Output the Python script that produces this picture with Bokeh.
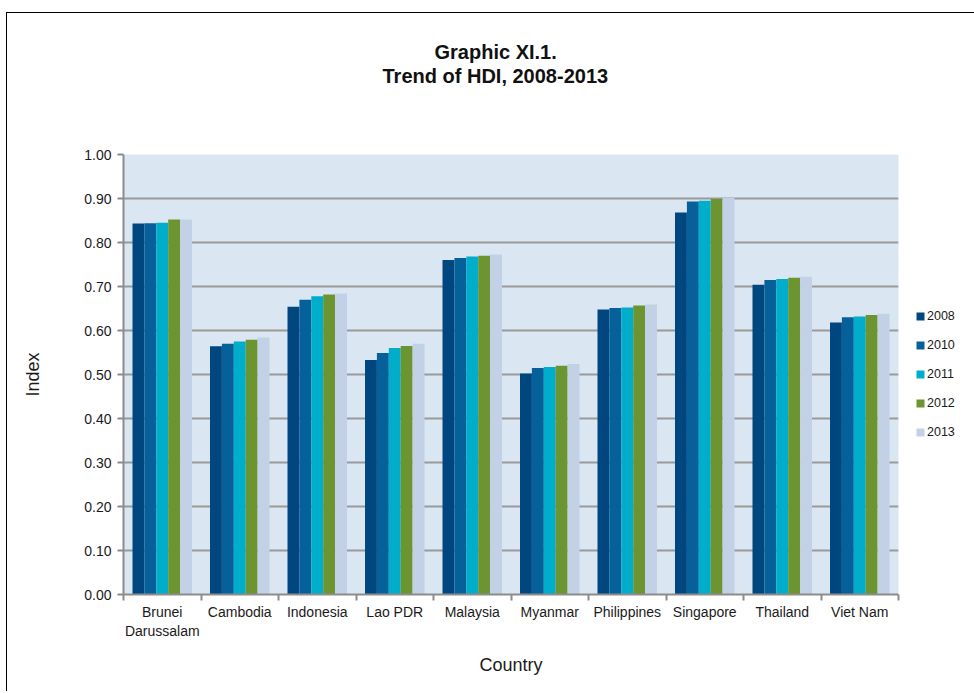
import numpy as np
from bokeh.plotting import figure
from bokeh.models import (Range1d, FixedTicker, NumeralTickFormatter, Legend,
                          LegendItem, ColumnDataSource, Title)
from bokeh.embed import file_html
from bokeh.resources import INLINE

countries = ["Brunei\nDarussalam", "Cambodia", "Indonesia", "Lao PDR", "Malaysia",
             "Myanmar", "Philippines", "Singapore", "Thailand", "Viet Nam"]
years = ["2008", "2010", "2011", "2012", "2013"]
hdi_2008 = [0.843, 0.564, 0.654, 0.533, 0.760, 0.502, 0.648, 0.868, 0.704, 0.618]
hdi_2010 = [0.844, 0.570, 0.670, 0.549, 0.765, 0.515, 0.651, 0.893, 0.715, 0.630]
hdi_2011 = [0.845, 0.575, 0.678, 0.560, 0.768, 0.517, 0.652, 0.895, 0.717, 0.632]
hdi_2012 = [0.852, 0.579, 0.682, 0.565, 0.770, 0.520, 0.657, 0.899, 0.720, 0.635]
hdi_2013 = [0.852, 0.584, 0.684, 0.570, 0.773, 0.524, 0.659, 0.901, 0.722, 0.638]
y_ticks = [0.0, 0.1, 0.2, 0.3, 0.4, 0.5, 0.6, 0.7, 0.8, 0.9, 1.0]
title_lines = ["Graphic XI.1.", "Trend of HDI, 2008-2013"]

series = [hdi_2008, hdi_2010, hdi_2011, hdi_2012, hdi_2013]
colors = ["#00477F", "#06609A", "#00AECB", "#6C9532", "#C2D1E6"]

FONT = "Liberation Sans"
TXT = "#1a1a1a"

ML, MR, MT, MB = 116, 73, 141, 97

p = figure(frame_width=775, frame_height=440, output_backend="svg",
           toolbar_location=None,
           x_range=Range1d(0, len(countries)), y_range=Range1d(0, 1.0),
           min_border_left=ML, min_border_right=MR, min_border_top=MT,
           min_border_bottom=MB, background_fill_color="#DAE6F1",
           border_fill_color="white", outline_line_color=None,
           styles={"border-left": "1px solid black", "border-top": "1px solid black",
                   "margin-left": "6px", "margin-top": "12px"})

centers = np.arange(len(countries)) + 0.5
bw = 0.1535
offsets = [(k - 2) * bw for k in range(len(years))]

items = []
for yr, vals, col, off in zip(years, series, colors, offsets):
    src = ColumnDataSource(dict(x=centers + off, top=vals))
    r = p.vbar(x="x", top="top", width=bw, source=src, fill_color=col,
               line_color=None)
    items.append(LegendItem(label=yr, renderers=[r]))

legend = Legend(items=items, location="left", margin=17, padding=0,
                spacing=15, glyph_width=10, glyph_height=10, label_height=14,
                label_standoff=2, label_text_font=FONT, label_text_font_size="12.5px",
                label_text_color=TXT, border_line_color=None,
                background_fill_alpha=0)
p.add_layout(legend, "right")

# x axis
p.xaxis.ticker = FixedTicker(ticks=list(centers),
                             minor_ticks=list(np.arange(len(countries) + 1)))
p.xaxis.major_label_overrides = {float(c): n for c, n in zip(centers, countries)}
p.xaxis.major_tick_out = 0
p.xaxis.major_tick_in = 0
p.xaxis.minor_tick_out = 6
p.xaxis.minor_tick_in = 0
p.xaxis.minor_tick_line_color = "#8c8c8c"
p.xaxis.minor_tick_line_width = 2
p.xaxis.axis_line_color = "#8c8c8c"
p.xaxis.axis_line_width = 2
p.xaxis.major_label_standoff = 3
p.xaxis.major_label_text_font = FONT
p.xaxis.major_label_text_font_size = "14px"
p.xaxis.major_label_text_color = TXT
p.xaxis.axis_label = "Country"
p.xaxis.axis_label_text_font = FONT
p.xaxis.axis_label_text_font_style = "normal"
p.xaxis.axis_label_text_font_size = "18px"
p.xaxis.axis_label_text_color = TXT
p.xaxis.axis_label_standoff = 13

# y axis
p.yaxis.ticker = FixedTicker(ticks=y_ticks)
p.yaxis.formatter = NumeralTickFormatter(format="0.00")
p.yaxis.major_tick_out = 6
p.yaxis.major_tick_in = 0
p.yaxis.minor_tick_out = 0
p.yaxis.minor_tick_in = 0
p.yaxis.major_tick_line_color = "#8c8c8c"
p.yaxis.major_tick_line_width = 2
p.yaxis.axis_line_color = "#8c8c8c"
p.yaxis.axis_line_width = 2
p.yaxis.major_label_standoff = 6
p.yaxis.major_label_text_font = FONT
p.yaxis.major_label_text_font_size = "14px"
p.yaxis.major_label_text_color = TXT
p.yaxis.axis_label = "Index"
p.yaxis.axis_label_text_font = FONT
p.yaxis.axis_label_text_font_style = "normal"
p.yaxis.axis_label_text_font_size = "18px"
p.yaxis.axis_label_text_color = TXT
p.yaxis.axis_label_standoff = 38

p.xgrid.grid_line_color = None
p.ygrid.grid_line_color = "#999999"
p.ygrid.grid_line_width = 2

# title: an invisible spacer next to the frame, then the two lines
title_style = dict(text_font=FONT, text_font_style="bold", text_font_size="20px",
                   text_color="#111111")
p.add_layout(Title(text=" ", align="center", standoff=44, **title_style), "above")
p.add_layout(Title(text=title_lines[1], align="left", offset=259, standoff=0,
                   **title_style), "above")
p.add_layout(Title(text=title_lines[0], align="left", offset=311, standoff=0,
                   **title_style), "above")

open("out.html", "w").write(file_html(p, INLINE))
